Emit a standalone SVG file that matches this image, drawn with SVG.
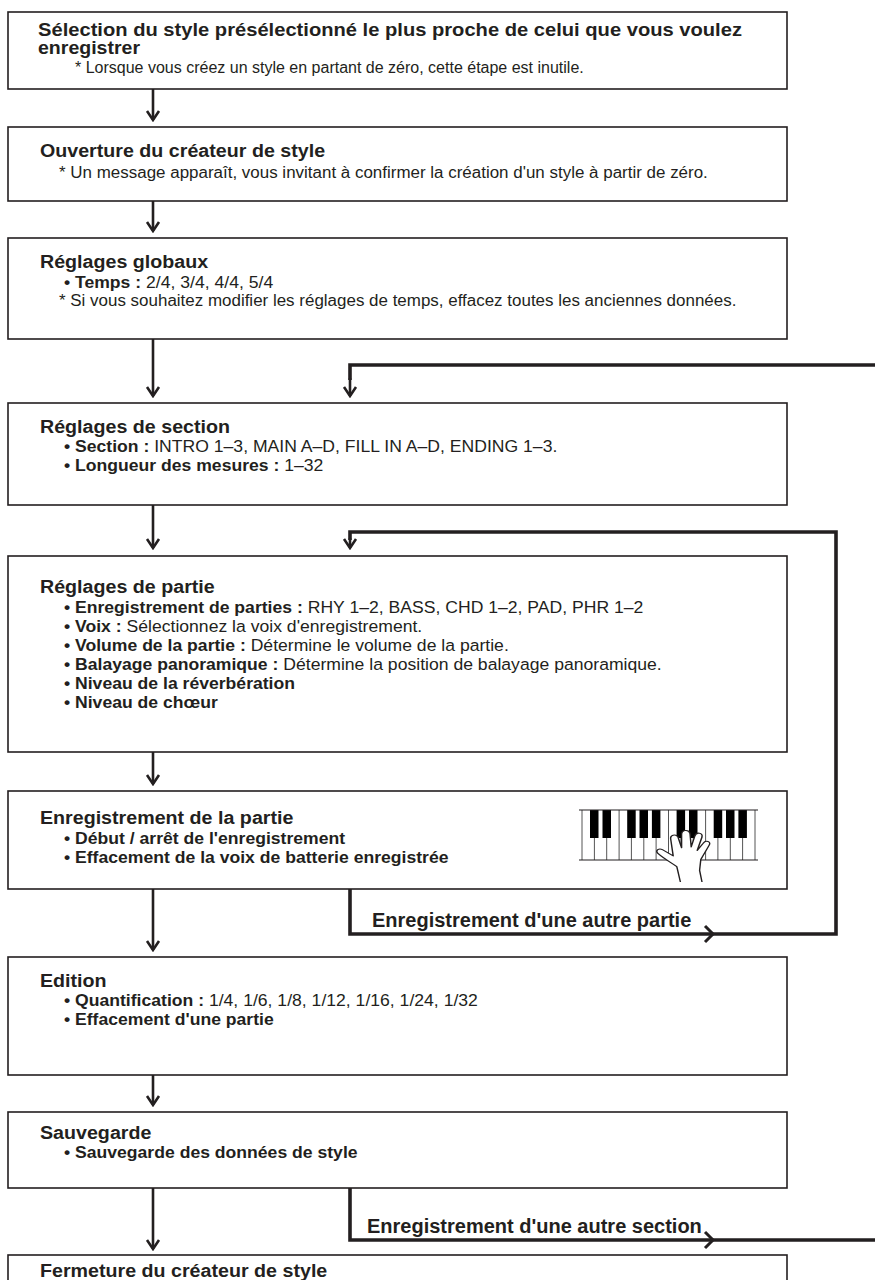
<svg xmlns="http://www.w3.org/2000/svg" width="875" height="1280" viewBox="0 0 875 1280">
  <style>
    .box { fill: #fff; stroke: #231f20; stroke-width: 1.6; }
    text { fill: #231f20; font-family: "Liberation Sans", Arial, sans-serif; }
    .t1 { font-size: 18px; font-weight: bold; }
    .n1 { font-size: 16px; }
    .h { font-size: 19px; font-weight: bold; }
    .i { font-size: 17px; }
    .n { font-size: 16.4px; }
    .b { font-weight: bold; }
    .lbl { font-size: 20px; font-weight: bold; }
    .flow { fill: none; stroke: #231f20; stroke-width: 2.6; marker-end: url(#head); }
    .loop { fill: none; stroke: #231f20; stroke-width: 3.6; }
    .chev { fill: none; stroke: #231f20; stroke-width: 3; stroke-linejoin: miter; }
    .wk { stroke: #555; stroke-width: 1; }
    .bk { fill: #000; }
  </style>
  <defs>
    <marker id="head" markerUnits="userSpaceOnUse" viewBox="-12 -8 14 16" refX="0" refY="0" markerWidth="14" markerHeight="16" orient="auto">
      <path d="M-9,-6 L0,0 L-9,6" fill="none" stroke="#231f20" stroke-width="2.6"/>
    </marker>
  </defs>

  <rect width="875" height="1280" fill="#fff"/>

  <!-- connectors -->
  <g id="connectors">
    <path class="flow" d="M153,89 V120"/>
    <path class="flow" d="M153,201 V231"/>
    <path class="flow" d="M153,339 V396"/>
    <path class="flow" d="M153,505 V548"/>
    <path class="flow" d="M153,752 V784"/>
    <path class="flow" d="M153,889 V950"/>
    <path class="flow" d="M153,1075 V1105"/>
    <path class="flow" d="M153,1188 V1249"/>
    <!-- loop back to section settings -->
    <path class="loop" d="M875,365 H350 V380"/>
    <path class="flow" d="M350,378 V396"/>
    <path class="loop" d="M350,1188 V1240 H875"/>
    <path class="chev" d="M705,1232 L713,1240 L705,1248"/>
    <!-- loop back to part settings -->
    <path class="loop" d="M350,889 V934 H836 V532 H350 V540"/>
    <path class="flow" d="M350,538 V548"/>
    <path class="chev" d="M705,926 L713,934 L705,942"/>
  </g>

  <!-- 1 -->
  <g id="node-select">
    <rect class="box" x="8" y="12" width="779" height="77"/>
    <text class="t1" x="38" y="36" textLength="704" lengthAdjust="spacingAndGlyphs">Sélection du style présélectionné le plus proche de celui que vous voulez</text>
    <text class="t1" x="38" y="54" textLength="102" lengthAdjust="spacingAndGlyphs">enregistrer</text>
    <text class="n1" x="75" y="73">* Lorsque vous créez un style en partant de zéro, cette étape est inutile.</text>
  </g>

  <!-- 2 -->
  <g id="node-open">
    <rect class="box" x="8" y="127" width="779" height="74"/>
    <g transform="scale(1.035 1)">
      <text class="h" x="38.6" y="157">Ouverture du créateur de style</text>
      <text class="n" x="57" y="178">* Un message apparaît, vous invitant à confirmer la création d'un style à partir de zéro.</text>
    </g>
  </g>

  <!-- 3 -->
  <g id="node-global">
    <rect class="box" x="8" y="238" width="779" height="101"/>
    <g transform="scale(1.035 1)">
      <text class="h" x="38.6" y="268">Réglages globaux</text>
      <text class="i" x="61.8" y="288"><tspan class="b">• Temps :</tspan> 2/4, 3/4, 4/4, 5/4</text>
      <text class="n" x="57" y="306">* Si vous souhaitez modifier les réglages de temps, effacez toutes les anciennes données.</text>
    </g>
  </g>

  <!-- 4 -->
  <g id="node-section">
    <rect class="box" x="8" y="403" width="779" height="102"/>
    <g transform="scale(1.035 1)">
      <text class="h" x="38.6" y="433">Réglages de section</text>
      <text class="i" x="61.8" y="452"><tspan class="b">• Section :</tspan> INTRO 1–3, MAIN A–D, FILL IN A–D, ENDING 1–3.</text>
      <text class="i" x="61.8" y="471"><tspan class="b">• Longueur des mesures :</tspan> 1–32</text>
    </g>
  </g>

  <!-- 5 -->
  <g id="node-part">
    <rect class="box" x="8" y="556" width="779" height="196"/>
    <g transform="scale(1.035 1)">
      <text class="h" x="38.6" y="593">Réglages de partie</text>
      <text class="i" x="61.8" y="613"><tspan class="b">• Enregistrement de parties :</tspan> RHY 1–2, BASS, CHD 1–2, PAD, PHR 1–2</text>
      <text class="i" x="61.8" y="632"><tspan class="b">• Voix :</tspan> Sélectionnez la voix d'enregistrement.</text>
      <text class="i" x="61.8" y="651"><tspan class="b">• Volume de la partie :</tspan> Détermine le volume de la partie.</text>
      <text class="i" x="61.8" y="670"><tspan class="b">• Balayage panoramique :</tspan> Détermine la position de balayage panoramique.</text>
      <text class="i b" x="61.8" y="689">• Niveau de la réverbération</text>
      <text class="i b" x="61.8" y="708">• Niveau de chœur</text>
    </g>
  </g>

  <!-- 6 -->
  <g id="node-record">
    <rect class="box" x="8" y="791" width="779" height="98"/>
    <g transform="scale(1.035 1)">
      <text class="h" x="38.6" y="824">Enregistrement de la partie</text>
      <text class="i b" x="61.8" y="844">• Début / arrêt de l'enregistrement</text>
      <text class="i b" x="61.8" y="863">• Effacement de la voix de batterie enregistrée</text>
    </g>
    <!-- keyboard with a hand -->
    <g id="keyboard">
      <rect x="582" y="810" width="173" height="50" fill="#fff"/>
      <g class="wk">
        <line x1="582" y1="810" x2="582" y2="860"/>
        <line x1="594.4" y1="810" x2="594.4" y2="860"/>
        <line x1="606.7" y1="810" x2="606.7" y2="860"/>
        <line x1="619.1" y1="810" x2="619.1" y2="860"/>
        <line x1="631.4" y1="810" x2="631.4" y2="860"/>
        <line x1="643.8" y1="810" x2="643.8" y2="860"/>
        <line x1="656.1" y1="810" x2="656.1" y2="860"/>
        <line x1="668.5" y1="810" x2="668.5" y2="860"/>
        <line x1="680.9" y1="810" x2="680.9" y2="860"/>
        <line x1="693.2" y1="810" x2="693.2" y2="860"/>
        <line x1="705.6" y1="810" x2="705.6" y2="860"/>
        <line x1="717.9" y1="810" x2="717.9" y2="860"/>
        <line x1="730.3" y1="810" x2="730.3" y2="860"/>
        <line x1="742.6" y1="810" x2="742.6" y2="860"/>
        <line x1="755" y1="810" x2="755" y2="860"/>
      </g>
      <g class="bk">
        <rect x="590" y="810" width="8.5" height="28"/>
        <rect x="602.5" y="810" width="8.5" height="28"/>
        <rect x="627.2" y="810" width="8.5" height="28"/>
        <rect x="639.5" y="810" width="8.5" height="28"/>
        <rect x="651.9" y="810" width="8.5" height="28"/>
        <rect x="676.6" y="810" width="8.5" height="28"/>
        <rect x="689" y="810" width="8.5" height="28"/>
        <rect x="713.7" y="810" width="8.5" height="28"/>
        <rect x="726" y="810" width="8.5" height="28"/>
        <rect x="738.4" y="810" width="8.5" height="28"/>
      </g>
      <line x1="579" y1="810" x2="758" y2="810" stroke="#231f20" stroke-width="1.2"/>
      <line x1="579" y1="860" x2="758" y2="860" stroke="#231f20" stroke-width="1.2"/>
      <g transform="translate(684 855) scale(1.2 0.9) translate(-684 -855)">
        <path d="M681,885 L678,868 C674,864 668,860 662,853 C660,850 663,847 666,849 L675,856 L673,838 C672,833 677,831 679,835 L682,847 L682,832 C682,827 688,826 689,831 L690,846 L693,834 C694,829 700,830 699,835 L695,850 L700,842 C702,838 707,840 705,844 L698,860 L697,872 L699,885" fill="#fff" stroke="#231f20" stroke-width="1.2" stroke-linejoin="round"/>
      </g>
    </g>
  </g>

  <!-- loop labels -->
  <g id="labels">
    <text class="lbl" x="372" y="927">Enregistrement d'une autre partie</text>
    <text class="lbl" x="367" y="1233">Enregistrement d'une autre section</text>
  </g>

  <!-- 7 -->
  <g id="node-edit">
    <rect class="box" x="8" y="957" width="779" height="118"/>
    <g transform="scale(1.035 1)">
      <text class="h" x="38.6" y="987">Edition</text>
      <text class="i" x="61.8" y="1006"><tspan class="b">• Quantification :</tspan> 1/4, 1/6, 1/8, 1/12, 1/16, 1/24, 1/32</text>
      <text class="i b" x="61.8" y="1025">• Effacement d'une partie</text>
    </g>
  </g>

  <!-- 8 -->
  <g id="node-save">
    <rect class="box" x="8" y="1112" width="779" height="76"/>
    <g transform="scale(1.035 1)">
      <text class="h" x="38.6" y="1139">Sauvegarde</text>
      <text class="i b" x="61.8" y="1158">• Sauvegarde des données de style</text>
    </g>
  </g>

  <!-- 9 -->
  <g id="node-close">
    <rect class="box" x="8" y="1255" width="779" height="40"/>
    <g transform="scale(1.035 1)">
      <text class="h" x="38.6" y="1277">Fermeture du créateur de style</text>
    </g>
  </g>
</svg>
